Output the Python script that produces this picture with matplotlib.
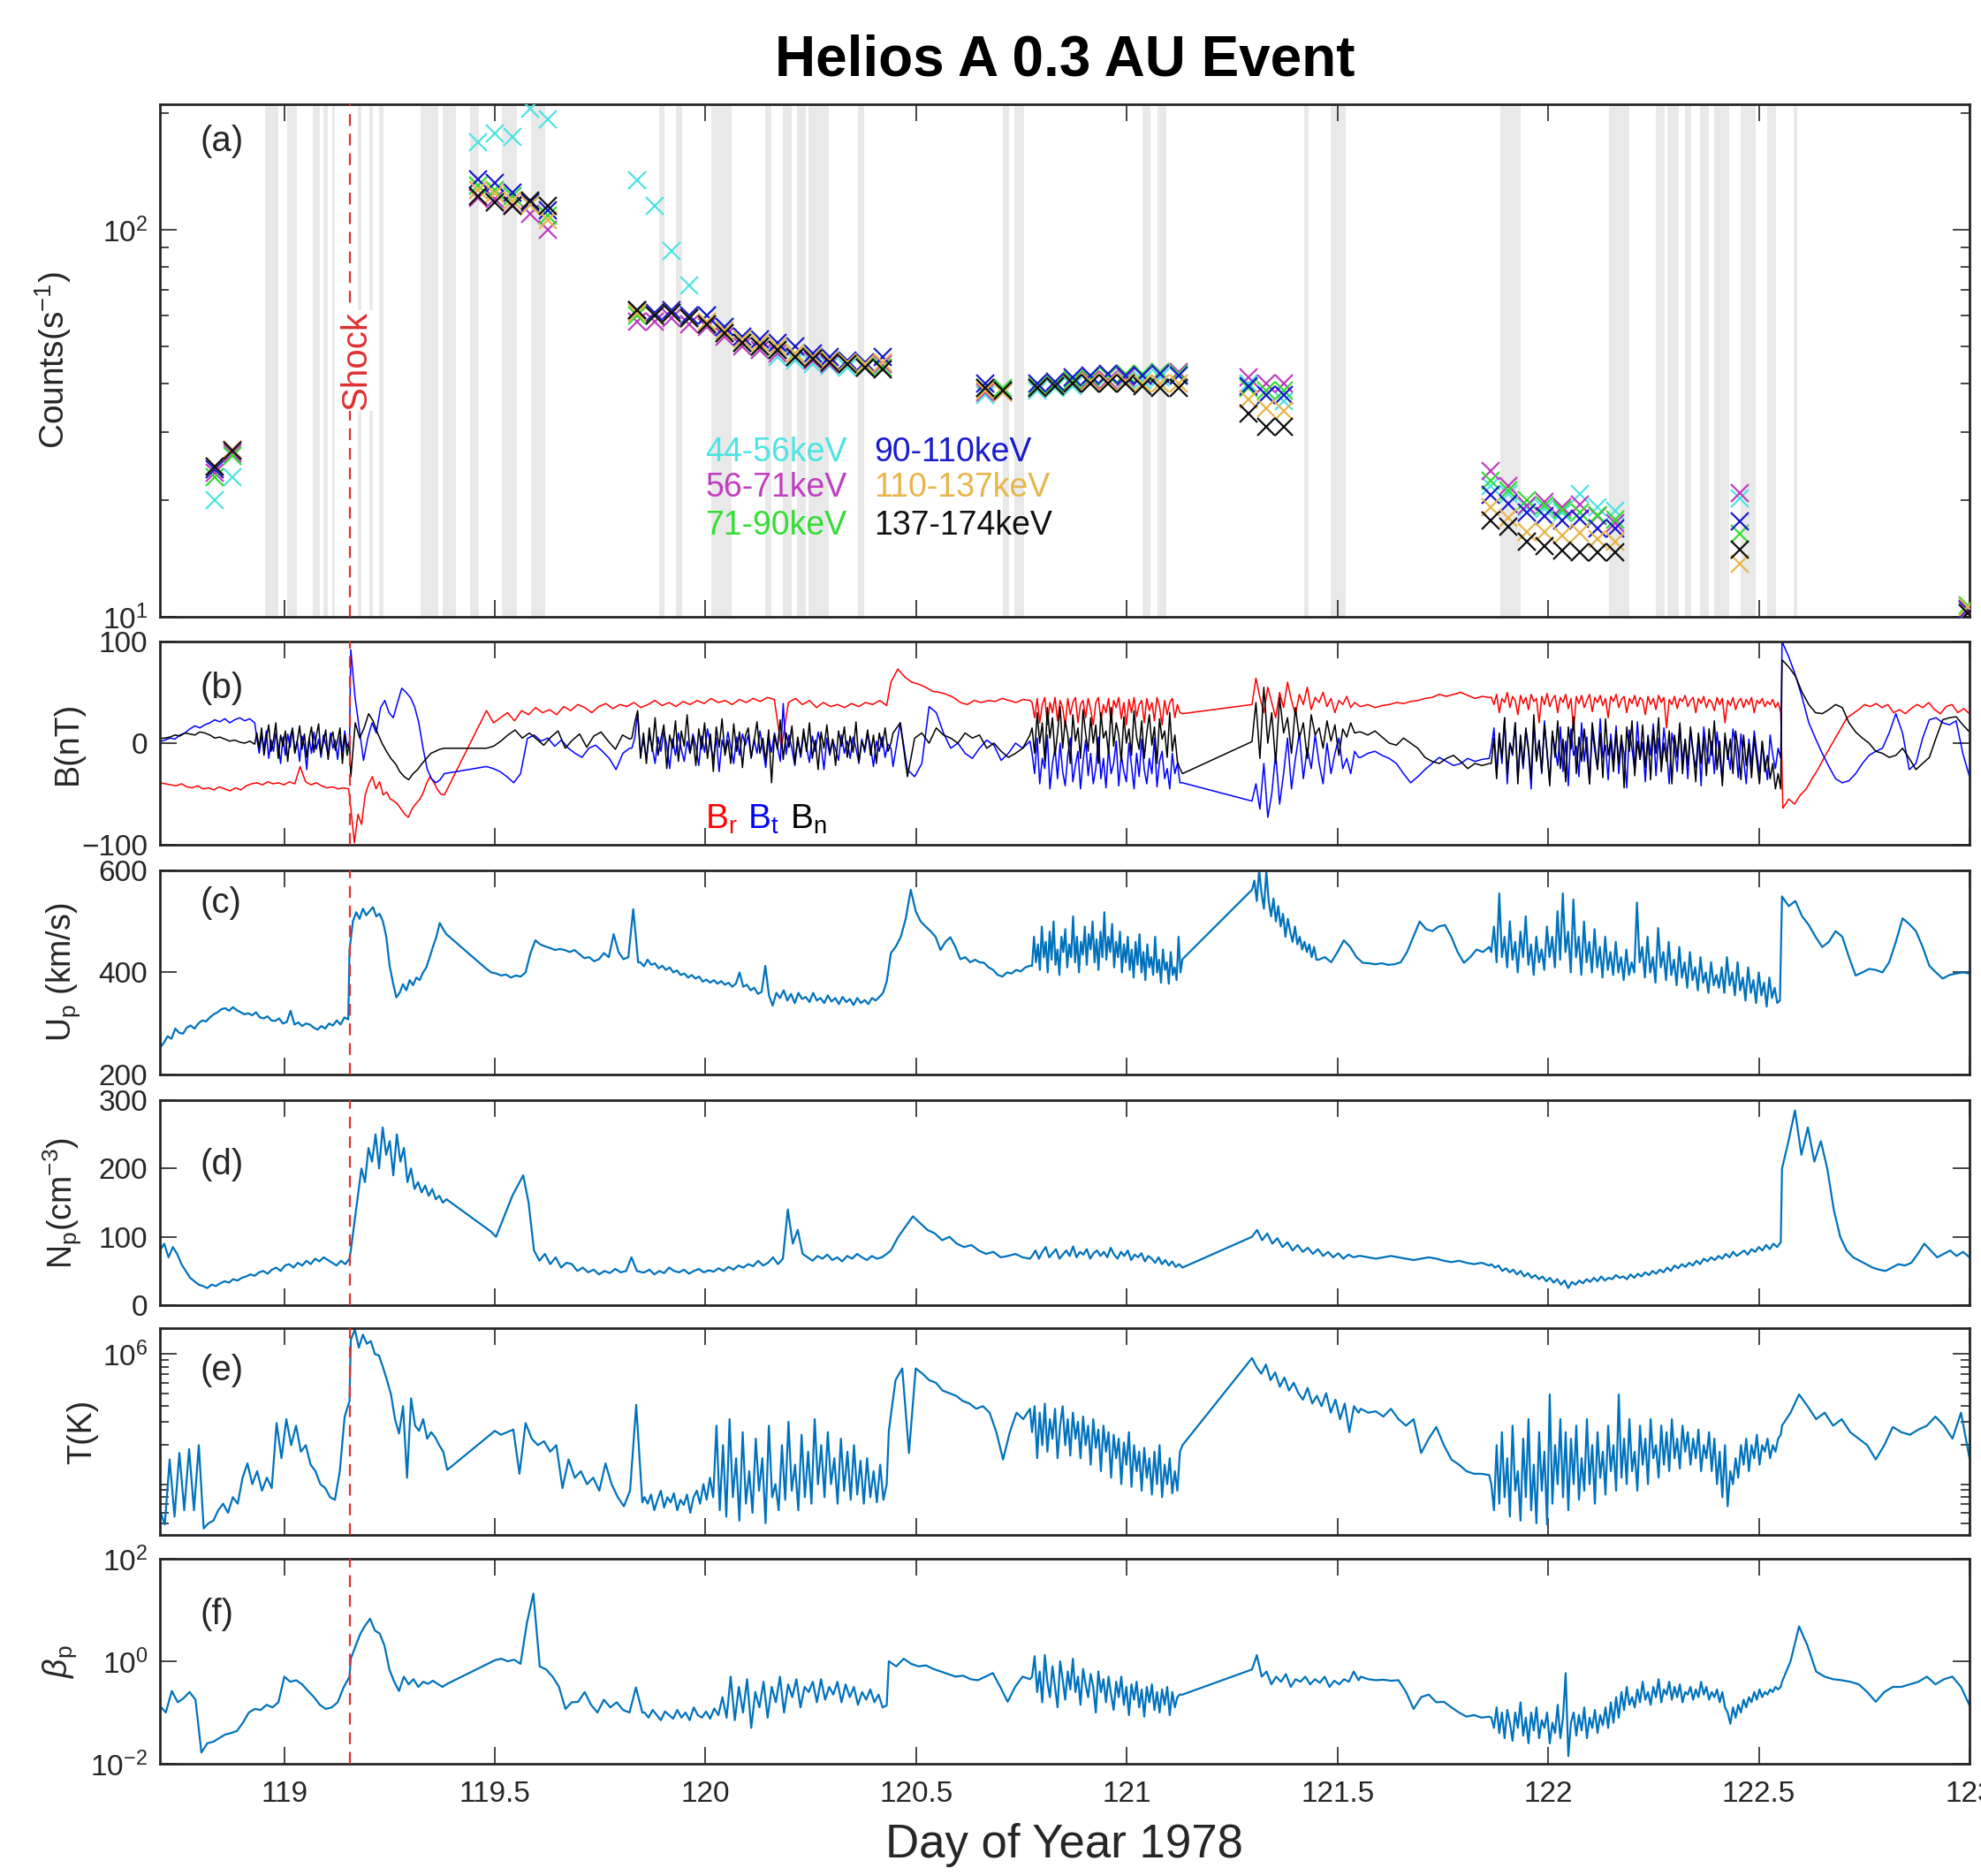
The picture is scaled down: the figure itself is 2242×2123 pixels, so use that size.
import numpy as np
import matplotlib
matplotlib.use('Agg')
import matplotlib.pyplot as plt
from matplotlib.ticker import FixedLocator, LogLocator, NullFormatter

plt.rcParams['font.family'] = ['Liberation Sans', 'DejaVu Sans']
plt.rcParams['mathtext.fontset'] = 'custom'
plt.rcParams['mathtext.rm'] = 'Liberation Sans'
plt.rcParams['mathtext.it'] = 'Liberation Sans:italic'

# ---------------- data ----------------
shock_day = 119.155

# energetic particle counts (hourly averages), per channel
count_days = [118.835, 118.876,
              119.459, 119.500, 119.542, 119.584, 119.625,
              119.837, 119.879, 119.920, 119.962, 120.004, 120.045, 120.087, 120.129,
              120.170, 120.212, 120.254, 120.295, 120.337, 120.379, 120.420,
              120.663, 120.705,
              120.788, 120.830, 120.872, 120.913, 120.955, 120.997, 121.038, 121.080, 121.122,
              121.289, 121.331, 121.372,
              121.864, 121.906, 121.950, 121.992, 122.033, 122.075, 122.117, 122.159,
              122.454, 122.996]
c44_56 = [20, 23, 168, 177, 174, 205, 193,
          134, 115, 88, 72, 60, 56, 52, 49, 47, 46, 45, 44.5, 44, 44, 45,
          37.5, 38.5, 38.5, 39, 39.5, 40, 40.5, 41, 41, 41.5, 42,
          40, 37.5, 36, 21.8, 20.8, 19.2, 19.0, 18.6, 20.8, 19.2, 18.8, 20.2, 10.3]
c56_71 = [23.5, 26.5, 121, 120, 116, 110, 100,
          58, 58, 59, 57, 56, 53, 50, 49, 48, 47, 46, 45, 45, 44, 45,
          38, 38, 39, 40, 40.5, 41, 41, 41.5, 42, 43, 43,
          41.5, 40, 40, 23.8, 21.8, 19.4, 19.8, 19.2, 19.5, 18.2, 17.5, 20.9, 10.4]
c71_90 = [23, 26, 130, 127, 122, 117, 109,
          60, 60, 61, 59, 57, 54, 51, 50, 49, 48, 47, 46, 45, 44.5, 44,
          39, 39, 39.5, 40, 41, 41.5, 42, 42.5, 42.5, 43, 42.5,
          39, 38.5, 38.5, 22.5, 21.2, 20.0, 19.4, 18.9, 18.6, 18.3, 17.8, 16.4, 10.7]
c90_110 = [24, 27, 135, 132, 125, 118, 112,
           62, 61, 62, 60, 60, 56, 53, 52, 51, 50, 48, 47, 46, 45.5, 47,
           40, 38.5, 40, 40.5, 41.5, 42, 42.5, 42, 42, 42.5, 42,
           39.5, 37.5, 37.5, 20.7, 19.6, 18.6, 18.2, 17.7, 17.9, 16.9, 16.9, 17.6, 10.5]
c110_137 = [24.5, 27, 127, 124, 119, 116, 106,
            61, 60, 61, 59, 58, 55, 52, 51, 50, 48, 47, 46, 45.5, 45, 45.5,
            38.5, 38, 39, 39.5, 40, 40.5, 40.5, 40.5, 40, 40, 40,
            36.5, 34.5, 34, 19.2, 18.0, 16.6, 16.6, 16.2, 16.5, 15.9, 15.6, 13.7, 10.6]
c137_174 = [24.5, 26.8, 122, 118, 115, 119, 115,
            62, 60, 61, 59, 57, 54, 51, 50, 49, 47, 46.5, 45.5, 45, 44, 43.5,
            39, 38.5, 39, 39.5, 40, 40, 40, 40, 39.5, 39, 39,
            33.5, 31, 31, 17.7, 17.1, 15.6, 15.2, 14.8, 14.7, 14.7, 14.7, 14.9, 10.2]
channel_labels = ['44-56keV', '56-71keV', '71-90keV', '90-110keV', '110-137keV', '137-174keV']
channel_colors = ['#4fe3e3', '#c03ec0', '#33dd33', '#1a1acf', '#e8b54a', '#111111']

# data gaps shaded in panel (a) (start, end day)
gaps = [(118.954, 118.985), (119.006, 119.031), (119.067, 119.084), (119.092, 119.103),
        (119.113, 119.121), (119.174, 119.184), (119.203, 119.211), (119.226, 119.236),
        (119.324, 119.366), (119.377, 119.408), (119.441, 119.462), (119.517, 119.552),
        (119.586, 119.619), (119.889, 119.902), (119.929, 119.944), (120.013, 120.061),
        (120.142, 120.157), (120.184, 120.205), (120.218, 120.238), (120.245, 120.293),
        (120.362, 120.377), (120.705, 120.720), (120.734, 120.755), (121.038, 121.056),
        (121.073, 121.094), (121.420, 121.431), (121.483, 121.519), (121.887, 121.935),
        (122.144, 122.192), (122.255, 122.276), (122.282, 122.310), (122.324, 122.339),
        (122.360, 122.381), (122.393, 122.429), (122.456, 122.492), (122.519, 122.540),
        (122.582, 122.592)]

# magnetic field (nT), segments of evenly sampled values: (start day, end day, values)
br_segs = [
    (118.705, 119.153, [-39, -40, -41, -42, -40, -43, -44, -42, -45, -44, -46, -43, -45, -47, -44, -46, -42, -40,
                        -39, -41, -38, -40, -39, -41, -38, -40, -23, -38, -41, -39, -42, -44, -43, -45, -44, -45]),
    (119.158, 119.380, [-64, -98, -70, -80, -51, -40, -33, -45, -38, -51, -48, -55, -57, -60, -65, -70, -73, -65,
                        -60, -56, -50, -40, -33, -38, -45, -50, -51]),
    (119.480, 120.430, [32, 20, 25, 30, 22, 32, 28, 35, 30, 33, 28, 36, 32, 38, 35, 30, 36, 39, 34, 38, 36, 40, 35,
                        38, 42, 37, 40, 36, 41, 38, 42, 39, 44, 40, 42, 38, 43, 40, 44, 41, 45, 43, -5, 40, 44, 38,
                        42, 35, 40, 36, 38, 35, 39, 36, 40, 38, 42, 37]),
    (120.440, 120.770, [60, 73, 65, 60, 58, 55, 51, 50, 48, 45, 40, 38, 42, 40, 42, 41, 44, 42, 40, 43, 42]),
    (120.775, 121.132, [40, 25, 44, 20, 38, 45, 18, 40, 30, 45, 22, 42, 35, 17, 44, 28, 40, 45, 20, 38, 42, 25, 44,
                        33, 18, 40, 45, 22, 38, 30, 44, 20, 42, 35, 45, 24, 40, 18, 43, 30, 45, 26, 38, 42, 20, 44,
                        32, 40, 22, 45, 36, 18, 42, 28, 40, 44, 25, 38, 30, 29]),
    (121.297, 121.550, [38, 64, 45, 30, 55, 40, 25, 50, 35, 60, 42, 28, 48, 38, 55, 33, 45, 40, 50, 36, 44, 30, 42,
                        38, 46, 35, 40, 37]),
    (121.555, 121.860, [36, 38, 35, 37, 38, 40, 39, 41, 42, 44, 45, 48, 46, 48, 50, 47, 44, 46, 45]),
    (121.865, 122.552, [45, 38, 48, 30, 44, 40, 50, 35, 46, 42, 28, 47, 39, 45, 33, 48, 41, 44, 20, 46, 38, 49, 36,
                        43, 47, 30, 45, 40, 48, 34, 44, 12, 46, 39, 47, 35, 42, 48, 31, 45, 40, 47, 37, 44, 25, 46,
                        41, 48, 35, 43, 46, 30, 44, 39, 47, 36, 45, 42, 28, 46, 38, 44, 33, 47, 40, 45, 15, 43, 38,
                        46, 34, 44, 41, 47, 36, 42, 45, 30, 44, 39, 46, 35, 43, 40, 32, 45, 38, 44, 20, 42, 37, 45,
                        33, 41, 44, 35, 43, 38, 45, 30, 42, 39, 44, 36, 41, 38, 43, 35, 40, 30]),
    (122.557, 123.000, [-64, -55, -60, -51, -45, -35, -26, -15, -5, 5, 15, 25, 29, 33, 38, 36, 39, 35, 38, 30, 33,
                        29, 34, 38, 35, 40, 33, 29, 36, 38, 30, 34, 29]),
]
bt_segs = [
    (118.705, 118.930, [1.5, 3, 5, 4, 8, 10, 14, 17, 15, 18, 20, 23, 21, 24, 20, 23, 25, 22, 24, 20]),
    (118.935, 119.155, [5, -10, 8, -5, 12, -15, 3, -8, 10, -2, -20, 6, -12, 9, -4, 15, -9, 2, -18, 7, -3, -26, 5,
                        -10, 11, -6, 4, -14, 8, -1, -12, 10, -5, 3, -16, 6, -8, 12, -4, 2]),
    (119.158, 119.380, [92, 45, 14, -17, 5, 20, 10, 35, 42, 30, 25, 40, 54, 50, 45, 36, 20, -5, -26, -35, -39, -36,
                        -30]),
    (119.480, 119.820, [-23, -25, -28, -33, -39, -30, 4.6, 8, 2, 5, -3, 3, -5, -10, -14, -5, -2, -8, -15, -26, -10,
                        -5]),
    (119.825, 120.440, [-5, 5, 29, -10, 3, -15, 8, -4, -20, 6, -8, 12, -2, -25, 4, -12, 10, -6, -18, 2, -10, 9, -3,
                        -22, 7, -9, 14, -1, -16, 5, -28, 3, -8, 11, -4, -20, 6, -12, 9, -2, 8, -15, 4, -10, 12, -5,
                        -24, 6, -9, 10, -3, -18, 39, -11, 8, -6, -22, 4, -14, 9, -4, -19, 7, -8, 11, -2, -26, 5,
                        -12, 3, -6, -17, 8, -10, 2, -15, 6, -5, -20, 4, -9, 10, -3, -23, 2, -8, 6, -14, -1, -5]),
    (120.445, 120.770, [-23, 20, -26, -33, -20, 36, 30, 10, -5, 0, -10, -15, -5, 3, -2, -17, -10, 0, -5, 2]),
    (120.775, 121.132, [-10, -30, 5, -40, -15, -25, 8, -45, -20, -5, -35, 0, -28, -42, -12, 5, -38, -22, -8, -45,
                        -18, 3, -32, -10, -40, -25, 6, -35, -15, -44, -5, -30, -20, 2, -42, -12, -28, -38, 0, -22,
                        -45, -10, -33, 4, -26, -40, -15, -30, 5, -43, -18, -8, -35, -25, -45, -10, -30, -20, -39,
                        -39]),
    (121.297, 121.550, [-57, -40, -65, -20, -73, -50, -10, -60, -30, 5, -45, -15, 10, -35, -5, -25, 8, -20, -40, 0,
                        -30, -10, 5, -25, -15, -30, -8, -14]),
    (121.555, 121.860, [-14, -10, -8, -12, -15, -20, -30, -39, -33, -26, -20, -14, -18, -22, -20, -15, -18, -16,
                        -15]),
    (121.865, 122.552, [-5, 15, -30, 8, -20, 25, -40, 0, -12, 20, -35, 5, -25, 12, -8, -45, 18, -15, 3, -30, 22,
                        -10, -38, 10, -5, -22, 16, -28, 2, -42, 14, -12, -3, -33, 20, -18, 6, -40, 11, -8, -25, 24,
                        -14, -2, -36, 9, -20, 17, -30, 4, -10, -44, 13, -6, -26, 21, -16, 1, -38, 8, -12, 19, -32,
                        5, -22, 15, -8, -40, 10, -4, -28, 18, -18, 3, -35, 12, -10, -24, 7, -42, 16, -6, -20, 2,
                        -30, 11, -14, -38, 6, -8, -26, 14, -2, -34, 9, -16, -40, 4, -22, 12, -10, -30, 1, -18, -36,
                        8, -12, -25, -5, -15]),
    (122.555, 123.000, [100, 85, 67, 45, 20, 4.6, -10, -23, -35, -39, -37, -30, -20, -12, -8, -5, 10, 29, 10, -26,
                        -20, 5, 23, 25, 20, 18, 22, -10, -33]),
]
bn_segs = [
    (118.705, 118.930, [4.6, 5, 6, 8, 7, 10, 9, 8, 11, 10, 8, 5, 6, 4, 2, 3, 1, 0, 2, -1]),
    (118.935, 119.155, [10, -5, 15, -12, 5, 18, -8, 3, 20, -15, 8, -3, 12, -18, 6, 14, -10, 2, 17, -6, 9, -14, 4,
                        16, -9, 7, 19, -11, 1, 13, -16, 5, 11, -7, 3, 15, -20, 8, -12, 2]),
    (119.158, 119.380, [-33, 20, 5, 15, 29, 22, 10, 0, -8, -15, -20, -28, -33, -36, -30, -26, -20, -15, -10, -8, -6,
                        -5]),
    (119.480, 119.820, [-5, -3, 2, 8, 13, 5, 10, 4, -2, 6, 12, -5, 3, 9, -4, 7, 11, 2, -6, 8, 4]),
    (119.825, 120.440, [5, 20, 32, -15, 10, -20, 15, -8, 25, -12, 4, 18, -25, 8, -5, 22, -18, 12, -3, 28, -10, 6,
                        -22, 14, -6, 20, -15, 9, -28, 16, -4, 24, -12, 3, -20, 19, -8, 11, -24, 7, 15, -14, 2, 21,
                        -10, 5, -18, 13, -39, 8, -6, 23, -16, 10, -4, 17, -20, 6, -12, 14, -8, 20, -15, 3, -26,
                        11, -5, 18, -10, 4, -22, 12, -3, 16, -14, 7, -9, 21, -18, 2, -6, 13, -12, 8, -20, 10, -4,
                        15, -8, 0]),
    (120.445, 120.770, [10, 20, -33, 5, 10, 0, 15, 8, 5, 0, 10, 5, 8, -5, 0, -8, -14, -10, -5, 8]),
    (120.775, 121.132, [15, -10, 30, 0, 20, -18, 35, 5, 25, -12, 10, 36, -5, 22, 8, -20, 28, 2, 15, -15, 33, 10,
                        -8, 25, 0, 18, -20, 30, 5, 12, -10, 35, -3, 20, 8, -18, 26, 0, 14, -12, 32, 6, -6, 22, -15,
                        10, 28, -2, 16, -20, 24, 4, 12, -14, 30, -8, 8, -18, -25, -30]),
    (121.297, 121.550, [1.5, 40, -15, 55, 0, 30, -20, 45, 10, 25, -10, 35, 5, 20, -15, 28, 8, 15, -5, 22, 2, 18,
                        -12, 14, 6, 20, 10, 11]),
    (121.555, 121.860, [11, 8, 12, 6, 0, -2, 5, 0, -5, -14, -18, -20, -15, -12, -18, -25, -20, -22, -20]),
    (121.865, 122.552, [-20, 5, -35, 10, -15, 25, -30, 0, -10, 20, -40, 8, -22, 15, -5, -35, 28, -18, 2, -28, 18,
                        -8, -42, 12, -14, 22, -25, 4, -38, 16, -6, 26, -30, 6, -18, 14, -10, -40, 20, -2, -26, 10,
                        -34, 24, -12, 3, -28, 12, -20, 8, -44, 16, -8, 22, -32, 2, -16, 18, -24, 6, -36, 14, -10,
                        25, -28, 0, -18, 12, -40, 8, -14, 20, -30, 4, -22, 16, -8, -38, 10, -20, 6, -32, 14, -12,
                        22, -26, 2, -42, 10, -16, 4, -30, 12, -8, -36, 8, -22, 0, -34, 6, -18, -40, 2, -28, -12,
                        -35, -20, -45, -30, -45]),
    (122.555, 123.000, [82, 75, 66, 50, 38, 30, 29, 33, 38, 35, 20, 11, 5, 0, -8, -10, -14, -12, -5, -15, -26, -20,
                        -14, 5, 23, 25, 26, 18, 11]),
]

# proton speed (km/s)
up_segs = [
    (118.705, 119.152, [252, 262, 275, 270, 290, 282, 280, 292, 296, 290, 300, 306, 304, 312, 318, 322, 328, 330,
                        325, 332, 326, 322, 318, 320, 316, 322, 312, 310, 314, 306, 305, 310, 300, 303, 325, 298,
                        302, 295, 300, 298, 292, 288, 295, 290, 300, 296, 306, 298, 312, 308]),
    (119.155, 119.385, [444, 500, 518, 505, 525, 512, 520, 528, 510, 515, 500, 470, 413, 380, 351, 360, 377, 365,
                        385, 375, 390, 385, 400, 410, 430, 451, 470, 497, 485, 475]),
    (119.480, 119.840, [407, 400, 398, 394, 396, 390, 394, 392, 400, 438, 463, 455, 451, 448, 444, 446, 444, 440,
                        444, 436, 428, 430, 422, 426, 438, 430, 475, 440, 426, 430, 524, 420]),
    (119.845, 120.430, [420, 412, 425, 415, 418, 408, 413, 405, 410, 400, 404, 395, 398, 390, 395, 388, 392, 382,
                        386, 380, 385, 378, 383, 376, 380, 372, 378, 400, 372, 376, 365, 370, 358, 362, 413, 355,
                        335, 360, 350, 365, 345, 358, 340, 360, 348, 352, 342, 360, 345, 350, 340, 355, 343, 350,
                        338, 352, 342, 348, 336, 350, 340, 346, 338, 350, 345, 352, 360, 382]),
    (120.440, 120.640, [438, 451, 470, 506, 562, 520, 500, 490, 481, 470, 444, 460, 469, 450, 426, 430, 420, 425]),
    (120.650, 120.770, [420, 419, 410, 405, 395, 392, 400, 398, 405, 402, 410, 413]),
    (120.775, 121.132, [413, 470, 420, 455, 405, 490, 430, 460, 400, 480, 425, 500, 415, 445, 395, 470, 440, 485,
                        410, 455, 430, 510, 420, 470, 400, 460, 435, 490, 415, 475, 445, 500, 420, 465, 405, 480,
                        430, 518, 425, 470, 440, 495, 410, 460, 430, 480, 400, 455, 420, 470, 405, 445, 390, 460,
                        415, 475, 400, 440, 385, 455, 410, 430, 395, 470, 400, 425, 380, 445, 405, 420, 378, 440,
                        395, 410, 385, 470, 400, 426]),
    (121.297, 121.450, [562, 580, 540, 600, 555, 525, 598, 540, 510, 545, 500, 530, 490, 515, 470, 505, 480, 460,
                        490, 455, 470, 445, 460, 440, 455, 430, 450, 425]),
    (121.455, 121.860, [425, 430, 420, 440, 463, 450, 430, 419, 418, 416, 418, 415, 416, 420, 440, 470, 500, 485,
                        481, 490, 493, 470, 440, 419, 430, 445, 440, 450]),
    (121.865, 122.550, [440, 490, 420, 555, 430, 470, 410, 500, 425, 460, 400, 480, 430, 510, 415, 455, 395, 470,
                        420, 445, 405, 490,
                        430, 470, 410, 520, 425, 555, 440, 480, 400, 543, 430, 470, 395, 500, 420, 460, 400, 485,
                        410, 450, 390, 470, 405, 440, 395, 460, 400, 430, 385, 445, 395, 420,
                        400, 537, 420, 450, 390, 470, 400, 430, 380, 487, 410, 440, 385, 460, 395, 425, 375, 450,
                        390, 420, 370, 440, 385, 410, 365, 430, 380, 400, 360, 420, 375, 395,
                        370, 410, 360, 430, 375, 400, 355, 420, 365, 390, 345, 410, 360, 385, 340, 400, 355, 380,
                        333, 390, 350, 370, 340, 345]),
    (122.555, 123.000, [549, 530, 540, 510, 493, 470, 450, 460, 481, 470, 430, 394, 400, 407, 405, 400, 420, 460,
                        506, 495, 481, 450, 413, 400, 388, 395, 398, 400, 398]),
]

# proton density (cm^-3)
np_segs = [
    (118.705, 119.155, [80, 90, 70, 85, 75, 60, 50, 40, 35, 30, 28, 25, 30, 28, 32, 35, 33, 38, 36, 40, 42, 45,
                        43, 48, 50, 46, 52, 55, 50, 58, 60, 55, 62, 58, 65, 60, 68, 64, 70, 66, 62, 58, 65, 60, 68]),
    (119.158, 119.385, [80, 120, 160, 200, 180, 230, 210, 250, 200, 260, 220, 240, 190, 250, 210, 230, 180, 200,
                        170, 180, 165, 175, 160, 170, 155, 160, 150, 155]),
    (119.490, 119.850, [108, 100, 120, 140, 160, 175, 190, 150, 80, 65, 75, 60, 70, 55, 62, 60, 50, 55, 48, 52, 45,
                        50, 47, 53, 48, 50, 70, 50, 48]),
    (119.855, 120.430, [48, 52, 45, 50, 47, 55, 50, 48, 52, 46, 50, 53, 48, 51, 49, 54, 50, 56, 52, 58, 55, 60, 57,
                        65, 58, 62, 70, 60, 68, 140, 90, 110, 75, 70, 65, 72, 68, 74, 66, 70, 64, 72, 68, 75, 70,
                        66, 72, 68, 70, 75]),
    (120.440, 120.770, [80, 100, 115, 130, 120, 110, 105, 95, 100, 90, 85, 88, 80, 75, 78, 70, 72, 75, 70, 68]),
    (120.775, 121.132, [72, 80, 68, 78, 85, 70, 76, 82, 68, 74, 80, 72, 86, 70, 78, 74, 82, 68, 76, 80, 72, 78, 70,
                        84, 74, 68, 78, 72, 80, 66, 74, 70, 76, 64, 72, 68, 62, 70, 60, 66, 58, 64, 56, 60, 55]),
    (121.297, 121.550, [100, 110, 95, 105, 90, 98, 85, 92, 80, 88, 78, 84, 75, 82, 72, 78, 70, 76, 68, 74, 70, 72]),
    (121.555, 121.860, [72, 70, 68, 70, 72, 70, 68, 66, 68, 70, 68, 65, 63, 65, 62, 60, 62, 58]),
    (121.865, 122.552, [60, 55, 58, 50, 54, 48, 52, 45, 50, 42, 47, 40, 44, 38, 42, 35, 40, 33, 38, 30, 36, 25, 34,
                        30, 36, 32, 38, 34, 40, 35, 42, 36, 40, 38, 44, 40, 42, 38, 45, 40, 46, 42, 48, 44, 50, 46,
                        52, 48, 55, 50, 58, 54, 60, 56, 62, 58, 65, 60, 68, 64, 70, 66, 72, 68, 75, 70, 78, 72, 76,
                        80, 74, 82, 78, 85, 80, 88, 82, 90, 85, 92]),
    (122.555, 123.000, [200, 240, 285, 220, 260, 210, 240, 200, 140, 100, 80, 70, 65, 60, 55, 52, 50, 55, 60, 58,
                        62, 75, 90, 80, 70, 75, 80, 72, 78, 70]),
]

# proton temperature, log10(T/K)
logt_segs = [
    (118.705, 119.155, [4.8, 4.69, 5.19, 4.75, 5.24, 4.8, 5.27, 4.8, 5.3, 4.66, 4.7, 4.72, 4.8, 4.85, 4.78, 4.9,
                        4.85, 5.05, 5.16, 5.0, 5.1, 4.95, 5.05, 4.97, 5.47, 5.2, 5.5, 5.3, 5.45, 5.25, 5.3, 5.15,
                        5.1, 5.0, 4.97, 4.9, 4.88, 5.1, 5.52, 5.64]),
    (119.158, 119.387, [6.11, 6.19, 6.05, 6.15, 6.08, 6.1, 6.0, 5.99, 5.9, 5.8, 5.69, 5.5, 5.39, 5.6, 5.05, 5.66,
                        5.45, 5.41, 5.5, 5.35, 5.4, 5.36, 5.3, 5.25, 5.11]),
    (119.500, 119.850, [5.41, 5.38, 5.4, 5.42, 5.08, 5.47, 5.35, 5.3, 5.33, 5.25, 5.3, 4.97, 5.19, 5.05, 5.1, 5.0,
                        5.05, 4.95, 5.16, 5.0, 4.9, 4.83, 4.95, 5.61, 4.86]),
    (119.855, 120.430, [4.9, 4.85, 4.92, 4.8, 4.88, 4.95, 4.82, 4.9, 4.86, 4.93, 4.8, 4.88, 4.84, 4.92, 4.78, 4.9,
                        4.95, 4.85, 5.0, 4.88, 5.05, 4.9, 5.45, 4.8, 5.3, 4.75, 5.5, 4.9, 5.2, 4.72, 5.4, 4.85, 5.1,
                        4.78, 5.35, 4.95, 5.2, 4.7, 5.45, 4.9, 5.0, 4.8, 5.3, 4.88, 5.48, 4.95, 5.15, 4.8, 5.38,
                        4.9, 5.25, 4.85, 5.5, 5.0, 5.3, 4.9, 5.4, 5.0, 5.2, 4.85, 5.35, 4.95, 5.25, 4.88, 5.3, 4.92,
                        5.18, 4.85, 5.2, 4.9, 5.1, 4.86, 5.15, 4.88, 5.0]),
    (120.435, 120.770, [5.41, 5.8, 5.89, 5.24, 5.89, 5.85, 5.8, 5.78, 5.72, 5.7, 5.68, 5.64, 5.62, 5.58, 5.6, 5.55,
                        5.4, 5.19, 5.4, 5.55, 5.5, 5.58]),
    (120.775, 121.132, [5.4, 5.6, 5.2, 5.55, 5.3, 5.62, 5.25, 5.5, 5.35, 5.58, 5.2, 5.45, 5.6, 5.3, 5.5, 5.22,
                        5.55, 5.35, 5.48, 5.2, 5.52, 5.3, 5.45, 5.15, 5.5, 5.28, 5.42, 5.1, 5.45, 5.25, 5.4, 5.05,
                        5.38, 5.2, 5.35, 5.0, 5.32, 5.15, 5.4, 4.98, 5.3, 5.1, 5.25, 4.95, 5.28, 5.05, 5.2, 4.92,
                        5.25, 5.0, 5.3, 4.9, 5.15, 5.0, 5.2, 4.93, 5.1, 4.95, 5.25, 5.3]),
    (121.297, 121.550, [5.97, 5.9, 5.85, 5.92, 5.8, 5.86, 5.75, 5.82, 5.72, 5.78, 5.7, 5.65, 5.74, 5.62, 5.68, 5.6,
                        5.7, 5.55, 5.65, 5.5, 5.62, 5.4, 5.6, 5.55]),
    (121.555, 121.860, [5.58, 5.55, 5.56, 5.52, 5.58, 5.5, 5.45, 5.5, 5.24, 5.35, 5.44, 5.3, 5.19, 5.15, 5.1, 5.08,
                        5.08, 5.07]),
    (121.865, 122.552, [5.0, 4.8, 5.3, 4.85, 5.4, 4.9, 5.2, 4.75, 5.45, 4.95, 5.1, 4.72, 5.35, 4.9, 5.5, 4.8, 5.15,
                        4.7, 5.4, 4.95, 5.25, 4.69, 5.69, 4.85, 5.3, 5.0, 5.5, 4.9, 5.4, 4.8, 5.35, 5.0, 5.45, 4.88,
                        5.2, 4.95, 5.5, 5.0, 5.3, 4.85, 5.4, 5.05, 5.25, 4.92, 5.45, 5.1, 5.3, 4.95, 5.69, 5.05,
                        5.35, 5.0, 5.5, 5.1, 5.25, 4.95, 5.45, 5.15, 5.35, 5.0, 5.5, 5.2, 5.3, 5.05, 5.45, 5.15,
                        5.4, 5.1, 5.5, 5.2, 5.35, 5.12, 5.45, 5.25, 5.4, 5.15, 5.35, 5.2, 5.42, 5.1, 5.3, 5.2, 5.4,
                        5.1, 5.35, 5.0, 5.25, 4.9, 5.3, 4.83, 5.1, 5.0, 5.2, 5.05, 5.3, 5.15, 5.35, 5.1, 5.3, 5.2,
                        5.38, 5.15, 5.3, 5.25, 5.35, 5.2, 5.3, 5.25, 5.35, 5.38]),
    (122.555, 123.000, [5.45, 5.55, 5.69, 5.6, 5.5, 5.55, 5.45, 5.5, 5.4, 5.35, 5.3, 5.19, 5.3, 5.44, 5.4, 5.38,
                        5.42, 5.45, 5.52, 5.45, 5.35, 5.55, 5.2]),
]

# proton plasma beta, log10(beta)
logbeta_segs = [
    (118.705, 119.155, [-0.87, -1.0, -0.58, -0.8, -0.72, -0.6, -0.75, -1.78, -1.6, -1.57, -1.5, -1.43, -1.4, -1.36,
                        -1.2, -1.0, -0.93, -0.95, -0.85, -0.9, -0.8, -0.3, -0.4, -0.37, -0.45, -0.58, -0.7, -0.85,
                        -0.93, -0.9, -0.8, -0.51, -0.3]),
    (119.158, 119.387, [0.05, 0.3, 0.54, 0.7, 0.83, 0.6, 0.54, 0.3, -0.16, -0.4, -0.58, -0.3, -0.45, -0.35, -0.5,
                        -0.4, -0.44, -0.38, -0.44, -0.5, -0.44]),
    (119.500, 119.850, [0.02, 0.05, 0.0, 0.03, -0.05, 0.75, 1.32, -0.1, -0.16, -0.3, -0.5, -0.93, -0.8, -0.79, -0.6,
                        -0.85, -1.0, -0.75, -0.9, -0.8, -0.95, -1.0, -0.51, -1.0]),
    (119.855, 120.430, [-1.0, -1.1, -0.95, -1.05, -1.15, -0.98, -1.05, -1.12, -0.95, -1.1, -1.0, -1.15, -0.9,
                        -1.05, -1.1, -0.98, -1.12, -0.92, -1.05, -0.7, -1.1, -0.3, -1.15, -0.5, -1.0, -0.35, -1.3,
                        -0.6, -0.9, -0.4, -1.1, -0.5, -0.8, -0.3, -1.0, -0.45, -0.7, -0.35, -0.9, -0.5, -0.6, -0.4,
                        -0.8, -0.35, -0.75, -0.5, -0.65, -0.4, -0.8, -0.45, -0.7, -0.5, -0.85, -0.6, -0.75, -0.55,
                        -0.8, -0.65, -0.9, -0.86]),
    (120.435, 120.770, [0.0, -0.1, 0.05, -0.05, -0.1, -0.08, -0.15, -0.2, -0.25, -0.3, -0.28, -0.35, -0.37, -0.3,
                        -0.23, -0.5, -0.79, -0.5, -0.3, -0.35]),
    (120.775, 121.132, [-0.3, 0.1, -0.6, -0.2, -0.8, 0.12, -0.4, -0.7, -0.1, -0.5, -0.9, 0.0, -0.35, -0.75, -0.2,
                        -0.55, 0.05, -0.6, -0.3, -0.85, -0.15, -0.45, -0.7, -0.25, -0.5, -1.0, -0.2, -0.6, -0.35,
                        -0.8, -0.3, -0.65, -0.95, -0.4, -0.7, -0.3, -0.85, -0.5, -1.05, -0.45, -0.75, -0.4, -0.9,
                        -0.55, -1.08, -0.5, -0.8, -0.45, -0.95, -0.6, -1.0, -0.55, -0.85, -0.5, -1.05, -0.6, -0.9,
                        -0.7, -0.65, -0.65]),
    (121.297, 121.550, [-0.16, 0.12, -0.3, -0.2, -0.45, -0.3, -0.4, -0.25, -0.5, -0.35, -0.4, -0.3, -0.45, -0.35,
                        -0.42, -0.3, -0.5, -0.38, -0.45, -0.35, -0.4, -0.2, -0.37]),
    (121.555, 121.860, [-0.3, -0.35, -0.37, -0.36, -0.38, -0.37, -0.6, -0.93, -0.7, -0.65, -0.8, -0.79, -0.9, -1.0,
                        -1.08, -1.05, -1.1, -1.08]),
    (121.865, 122.552, [-1.1, -1.3, -0.9, -1.4, -1.0, -1.5, -0.95, -1.2, -1.55, -1.0, -1.3, -0.8, -1.45, -1.1, -1.6,
                        -1.0, -1.35, -0.9, -1.5, -1.15, -1.3, -1.0, -1.6, -1.2, -1.4, -0.85, -1.5, -1.1, -0.23,
                        -1.85, -1.2, -1.0, -1.45, -1.05, -1.35, -0.9, -1.5, -1.1, -1.3, -0.95, -1.4, -1.05, -1.25,
                        -0.9, -1.3, -0.8, -1.2, -0.7, -1.1, -0.6, -0.95, -0.5, -0.85, -0.7, -0.9, -0.55, -0.8, -0.4,
                        -0.75, -0.6, -0.85, -0.5, -0.7, -0.35, -0.8, -0.55, -0.65, -0.4, -0.75, -0.5, -0.7, -0.45,
                        -0.8, -0.6, -0.65, -0.5, -0.75, -0.55, -0.7, -0.4, -0.65, -0.5, -0.75, -0.6, -0.7, -0.55,
                        -0.8, -0.6, -0.9, -1.0, -1.22, -0.9, -1.1, -0.85, -1.0, -0.75, -0.9, -0.7, -0.8, -0.6,
                        -0.75, -0.55, -0.7, -0.6, -0.65, -0.55, -0.6, -0.5, -0.55, -0.5]),
    (122.555, 123.000, [-0.4, 0.0, 0.68, 0.3, -0.2, -0.3, -0.35, -0.37, -0.4, -0.45, -0.6, -0.79, -0.6, -0.5, -0.5,
                        -0.45, -0.4, -0.3, -0.45, -0.35, -0.3, -0.5, -0.86]),
]


def build(segs):
    # evenly sampled values inside each segment, gaps joined by straight lines
    t, v = [], []
    for t0, t1, vals in segs:
        t.extend(np.linspace(t0, t1, len(vals)))
        v.extend(vals)
    return np.array(t), np.array(v, dtype=float)


# ---------------- figure ----------------
W, H = 2242, 2123
fig = plt.figure(figsize=(W / 100, H / 100), dpi=100)

left, right = 181, 2229
panels_px = [(118, 698), (726, 956), (985, 1216), (1245, 1477), (1503, 1737), (1764, 1996)]
axes = []
for top, bot in panels_px:
    ax = fig.add_axes([left / W, 1 - bot / H, (right - left) / W, (bot - top) / H])
    axes.append(ax)

xlim = (118.705, 123.0)
blue_line = '#0072BD'
axis_col = '#262626'

for ax in axes:
    ax.set_xlim(*xlim)
    ax.xaxis.set_major_locator(FixedLocator([119, 119.5, 120, 120.5, 121, 121.5, 122, 122.5, 123]))
    ax.tick_params(which='both', direction='in', top=True, right=True, colors=axis_col,
                   labelsize=24, width=1.2, pad=10)
    ax.tick_params(which='major', length=14)
    ax.tick_params(which='minor', length=7)
    for s in ax.spines.values():
        s.set_linewidth(2.0)
        s.set_color(axis_col)
    if ax is not axes[-1]:
        ax.set_xticklabels([])
    ax.axvline(shock_day, color='#e03030', ls=(0, (6, 4)), lw=1.6, zorder=3)

# (a) particle counts
ax = axes[0]
for s, e in gaps:
    ax.axvspan(s, e, color='#e9e9e9', lw=0, zorder=0)
for vals, col in zip([c44_56, c56_71, c71_90, c90_110, c110_137, c137_174], channel_colors):
    ax.plot(count_days, vals, ls='none', marker='x', ms=15, mew=1.6, color=col, zorder=4)
ax.set_yscale('log')
ax.set_ylim(10, 211)
ax.yaxis.set_major_locator(FixedLocator([10, 100]))
ax.yaxis.set_minor_locator(LogLocator(base=10, subs=np.arange(2, 10)))
ax.yaxis.set_minor_formatter(NullFormatter())
ax.set_ylabel('Counts(s$^{-1}$)', fontsize=28, color=axis_col)
ax.yaxis.set_label_coords(-0.048, 0.5)
ax.text(119.17, 46, 'Shock', rotation=90, color='#e03030', fontsize=29, ha='center', va='center',
        bbox=dict(facecolor='white', edgecolor='none', pad=1), zorder=3)
leg_x = [120.0, 120.4]
leg_y = [26.6, 21.5, 17.2]
for i, (lab, col) in enumerate(zip(channel_labels, channel_colors)):
    ax.text(leg_x[i // 3], leg_y[i % 3], lab, color=col, fontsize=27, ha='left', va='center', zorder=5)

# (b) magnetic field
ax = axes[1]
for segs, col in zip([br_segs, bt_segs, bn_segs], ['#ff0000', '#0000ff', '#000000']):
    t, v = build(segs)
    ax.plot(t, v, color=col, lw=1.1, zorder=2)
ax.set_ylim(-100, 100)
ax.set_yticks([-100, 0, 100])
ax.set_ylabel('B(nT)', fontsize=27, color=axis_col)
ax.yaxis.set_label_coords(-0.042, 0.5)
ax.text(120.0, -75, r'B$_\mathrm{r}$', color='#ff0000', fontsize=28, ha='left', va='center')
ax.text(120.1, -75, r'B$_\mathrm{t}$', color='#0000ff', fontsize=28, ha='left', va='center')
ax.text(120.2, -75, r'B$_\mathrm{n}$', color='#000000', fontsize=28, ha='left', va='center')

# (c) proton speed
ax = axes[2]
t, v = build(up_segs)
ax.plot(t, v, color=blue_line, lw=1.6)
ax.set_ylim(200, 600)
ax.set_yticks([200, 400, 600])
ax.set_ylabel(r'U$_\mathrm{p}$ (km/s)', fontsize=27, color=axis_col)
ax.yaxis.set_label_coords(-0.043, 0.5)

# (d) proton density
ax = axes[3]
t, v = build(np_segs)
ax.plot(t, v, color=blue_line, lw=1.6)
ax.set_ylim(0, 300)
ax.set_yticks([0, 100, 200, 300])
ax.set_ylabel(r'N$_\mathrm{p}$(cm$^{-3}$)', fontsize=27, color=axis_col)
ax.yaxis.set_label_coords(-0.042, 0.5)

# (e) temperature
ax = axes[4]
t, v = build(logt_segs)
ax.plot(t, 10 ** v, color=blue_line, lw=1.6)
ax.set_yscale('log')
ax.set_ylim(10 ** 4.61, 10 ** 6.2)
ax.yaxis.set_major_locator(FixedLocator([1e6]))
ax.yaxis.set_minor_locator(LogLocator(base=10, subs=np.arange(1, 10)))
ax.yaxis.set_minor_formatter(NullFormatter())
ax.set_ylabel('T(K)', fontsize=27, color=axis_col)
ax.yaxis.set_label_coords(-0.034, 0.5)

# (f) plasma beta
ax = axes[5]
t, v = build(logbeta_segs)
ax.plot(t, 10 ** v, color=blue_line, lw=1.6)
ax.set_yscale('log')
ax.set_ylim(1e-2, 1e2)
ax.yaxis.set_major_locator(FixedLocator([1e-2, 1, 1e2]))
ax.yaxis.set_minor_locator(LogLocator(base=10, subs=np.arange(1, 10)))
ax.yaxis.set_minor_formatter(NullFormatter())
ax.set_ylabel(r'$\beta_\mathrm{p}$', fontsize=27, color=axis_col)
ax.yaxis.set_label_coords(-0.045, 0.5)
ax.set_xticklabels(['119', '119.5', '120', '120.5', '121', '121.5', '122', '122.5', '123'])
ax.tick_params(axis='x', pad=14)

# panel letters
letter_y = [0.928, 0.77, 0.84, 0.685, 0.795, 0.73]
for ax, lab, yy in zip(axes, 'abcdef', letter_y):
    ax.text(0.022, yy, '(%s)' % lab, transform=ax.transAxes, fontsize=29, color=axis_col,
            ha='left', va='center', zorder=6)

fig.text(1205 / W, 1 - 69 / H, 'Helios A 0.3 AU Event', fontsize=46, fontweight='bold',
         ha='center', va='center', color='black')
fig.text(1204 / W, 1 - 2088 / H, 'Day of Year 1978', fontsize=38, ha='center', va='center', color=axis_col)

fig.savefig('out.png', dpi=100)
